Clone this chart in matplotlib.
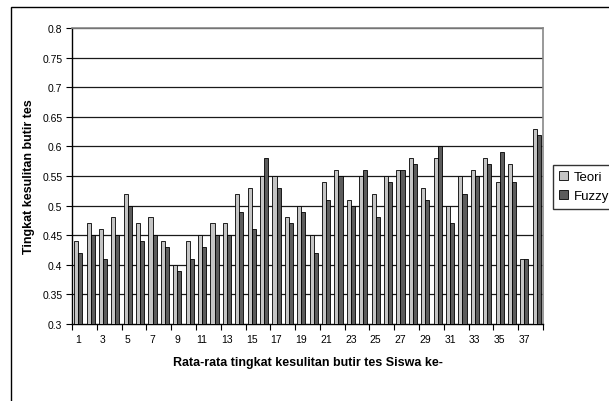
import numpy as np
import matplotlib
matplotlib.use("Agg")
import matplotlib.pyplot as plt
from matplotlib.patches import Rectangle

plt.rcParams['font.family'] = ['Liberation Sans', 'DejaVu Sans']

siswa = list(range(1, 39))
teori = [0.44, 0.47, 0.46, 0.48, 0.52, 0.47, 0.48, 0.44, 0.40, 0.44,
         0.45, 0.47, 0.47, 0.52, 0.53, 0.55, 0.55, 0.48, 0.50, 0.45,
         0.54, 0.56, 0.51, 0.55, 0.52, 0.55, 0.56, 0.58, 0.53, 0.58,
         0.50, 0.55, 0.56, 0.58, 0.54, 0.57, 0.41, 0.63]
fuzzy = [0.42, 0.45, 0.41, 0.45, 0.50, 0.44, 0.45, 0.43, 0.39, 0.41,
         0.43, 0.45, 0.45, 0.49, 0.46, 0.58, 0.53, 0.47, 0.49, 0.42,
         0.51, 0.55, 0.50, 0.56, 0.48, 0.54, 0.56, 0.57, 0.51, 0.60,
         0.47, 0.52, 0.55, 0.57, 0.59, 0.54, 0.41, 0.62]
yticks = [0.3, 0.35, 0.4, 0.45, 0.5, 0.55, 0.6, 0.65, 0.7, 0.75, 0.8]

fig = plt.figure(figsize=(6.09, 4.02), dpi=100)
ax = fig.add_axes([72/609, 1 - 325/402, 471/609, 296/402])

x = np.array(siswa)
w = 0.33
ax.bar(x - w/2, np.array(teori) - 0.3, w, bottom=0.3, color='#c4c4c4',
       edgecolor='black', linewidth=0.6, label='Teori', zorder=3)
ax.bar(x + w/2, np.array(fuzzy) - 0.3, w, bottom=0.3, color='#5c5c5c',
       edgecolor='black', linewidth=0.6, label='Fuzzy', zorder=3)

ax.set_xlim(0.5, 38.5)
ax.set_ylim(0.3, 0.8)
ax.set_yticks(yticks)
ax.set_yticklabels([('%g' % v) for v in yticks], fontsize=7.5)
for v in yticks[1:]:
    ax.axhline(v, color='#1a1a1a', linewidth=0.9, zorder=1)

# ticks at category boundaries, labels on odd categories
ax.set_xticks(np.arange(0.5, 39, 2))
ax.set_xticklabels([])
ax.set_xticks(siswa[::2], minor=True)
ax.set_xticklabels([str(s) for s in siswa[::2]], minor=True, fontsize=7.5)
ax.tick_params(axis='x', which='major', length=4, width=0.8, direction='out')
ax.tick_params(axis='x', which='minor', length=0, pad=7)
ax.tick_params(axis='y', length=4, width=0.8, direction='out', pad=3)

for s in ['left', 'bottom']:
    ax.spines[s].set_linewidth(1.0)
    ax.spines[s].set_color('black')
for s in ['top', 'right']:
    ax.spines[s].set_linewidth(1.2)
    ax.spines[s].set_color('#888888')

ax.set_xlabel('Rata-rata tingkat kesulitan butir tes Siswa ke-', fontsize=9,
              fontweight='bold', labelpad=9)
ax.set_ylabel('Tingkat kesulitan butir tes', fontsize=9, fontweight='bold',
              labelpad=5)

# outer chart frame (clipped by image edge)
fig.patches.append(Rectangle((11/609, -0.1), 1.1, 1 - 8/402 + 0.1,
                             transform=fig.transFigure, fill=False,
                             edgecolor='black', linewidth=1.0))

fig.legend(loc='upper left', bbox_to_anchor=(546/609, 1 - 159/402),
           fontsize=9.5, frameon=True, fancybox=False, edgecolor='black',
           handlelength=0.7, handleheight=0.7, handletextpad=0.4,
           borderpad=0.5, labelspacing=0.5)

fig.savefig('out.png', dpi=100)
